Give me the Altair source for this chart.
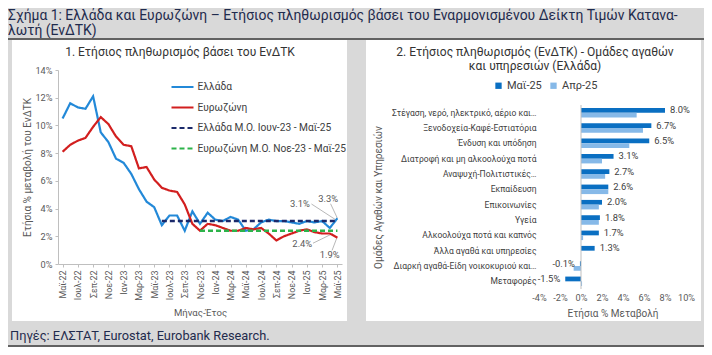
import altair as alt
import pandas as pd

FONT = "Roboto, sans-serif"
BG = "#d9d9d9"
TXT = "#1f2b4d"
AX = "#595959"

title_lines = [
    "Σχήμα 1: Ελλάδα και Ευρωζώνη – Ετήσιος πληθωρισμός βάσει του Εναρμονισμένου Δείκτη Τιμών Κατανα-",
    "λωτή (ΕνΔΤΚ)",
]
sub_left = "1. Ετήσιος πληθωρισμός βάσει του ΕνΔΤΚ"
sub_right = ["2. Ετήσιος πληθωρισμός (ΕνΔΤΚ) - Ομάδες αγαθών", "και υπηρεσιών (Ελλάδα)"]
footer_text = "Πηγές: ΕΛΣΤΑΤ, Eurostat, Eurobank Research."

# ---------------- left panel data ----------------
months = ["Μαϊ-22", "Ιουν-22", "Ιουλ-22", "Αυγ-22", "Σεπ-22", "Οκτ-22", "Νοε-22", "Δεκ-22",
          "Ιαν-23", "Φεβ-23", "Μαρ-23", "Απρ-23", "Μαϊ-23", "Ιουν-23", "Ιουλ-23", "Αυγ-23",
          "Σεπ-23", "Οκτ-23", "Νοε-23", "Δεκ-23", "Ιαν-24", "Φεβ-24", "Μαρ-24", "Απρ-24",
          "Μαϊ-24", "Ιουν-24", "Ιουλ-24", "Αυγ-24", "Σεπ-24", "Οκτ-24", "Νοε-24", "Δεκ-24",
          "Ιαν-25", "Φεβ-25", "Μαρ-25", "Απρ-25", "Μαϊ-25"]
greece = [10.5, 11.6, 11.3, 11.2, 12.1, 9.5, 8.8, 7.6, 7.3, 6.5, 5.4, 4.5, 4.1, 2.8, 3.5, 3.5,
          2.4, 3.8, 2.9, 3.7, 3.2, 3.1, 3.4, 3.2, 2.4, 2.5, 3.0, 3.2, 3.1, 3.1, 3.0, 2.9,
          3.1, 3.0, 3.1, 2.6, 3.3]
eurozone = [8.1, 8.6, 8.9, 9.1, 9.9, 10.6, 10.1, 9.2, 8.6, 8.5, 6.9, 7.0, 6.1, 5.5, 5.3, 5.2,
            4.3, 2.9, 2.4, 2.9, 2.8, 2.6, 2.4, 2.4, 2.6, 2.5, 2.6, 2.2, 1.7, 2.0, 2.2, 2.4,
            2.5, 2.3, 2.2, 2.2, 1.9]
series_names = ["Ελλάδα", "Ευρωζώνη", "Ελλάδα Μ.Ο. Ιουν-23 - Μαϊ-25", "Ευρωζώνη Μ.Ο. Νοε-23 - Μαϊ-25"]
series_colors = ["#2389d8", "#d21f1f", "#1b2a6b", "#2db34a"]
series_dashes = [[1, 0], [1, 0], [5, 3], [5, 3]]
avg_values = [3.1, 2.4]
avg_start = ["Ιουν-23", "Νοε-23"]
avg_end = ["Μαϊ-25", "Μαϊ-25"]

ann_text = ["3.1%", "3.3%", "2.4%", "1.9%"]
ann_x = [31.1, 34.8, 31.4, 35.0]
ann_y = [4.33, 4.69, 1.44, 0.65]
lead_x = [32.6, 35.1, 32.8, 35.3]
lead_y = [4.33, 4.35, 1.5, 0.98]
lead_x2 = [35.7, 36.0, 35.4, 35.9]
lead_y2 = [3.22, 3.3, 2.2, 1.85]

# ---------------- right panel data ----------------
categories = ["Στέγαση, νερό, ηλεκτρικό, αέριο και…", "Ξενοδοχεία-Καφέ-Εστιατόρια",
              "Ένδυση και υπόδηση", "Διατροφή και μη αλκοολούχα ποτά", "Αναψυχή-Πολιτιστικές…",
              "Εκπαίδευση", "Επικοινωνίες", "Υγεία", "Αλκοολούχα ποτά και καπνός",
              "Άλλα αγαθά και υπηρεσίες", "Διαρκή αγαθά-Είδη νοικοκυριού και…", "Μεταφορές"]
periods = ["Μαϊ-25", "Απρ-25"]
may25 = [8.0, 6.7, 6.5, 3.1, 2.7, 2.6, 2.0, 1.8, 1.7, 1.3, -0.1, -1.5]
apr25 = [5.3, 5.9, 4.6, 2.0, 2.3, 2.6, 1.7, 1.7, 0.2, 0.0, -0.7, 0.1]
period_colors = ["#0a6fc2", "#86b9e8"]

# ---------------- frames ----------------
line_df = pd.DataFrame({
    "idx": list(range(len(months))) * 2,
    "value": greece + eurozone,
    "series": [series_names[0]] * len(months) + [series_names[1]] * len(months),
})
avg_rows = []
for name, v, s, e in zip(series_names[2:], avg_values, avg_start, avg_end):
    avg_rows.append({"idx": months.index(s), "value": v, "series": name})
    avg_rows.append({"idx": months.index(e), "value": v, "series": name})
avg_df = pd.DataFrame(avg_rows)
ann_df = pd.DataFrame({"idx": ann_x, "value": ann_y, "t": ann_text})
lead_df = pd.DataFrame({"idx": lead_x, "value": lead_y, "idx2": lead_x2, "value2": lead_y2})

bar_df = pd.DataFrame({
    "category": categories * 2,
    "period": [periods[0]] * len(categories) + [periods[1]] * len(categories),
    "pct": may25 + apr25,
})
lab_df = pd.DataFrame({"category": categories, "period": periods[0], "pct": may25,
                       "label": [f"{v:.1f}%" for v in may25]})

one = alt.Data(values=[{}])

# overall canvas (single layered view, pixel layout)
TW, TH = 696, 339
L_X0, L_X1, L_Y0, L_Y1 = 50, 334, 62, 256
R_X0, R_X1, R_Y0, R_Y1 = 531, 678, 97, 281

# ---------------- decoration layer ----------------
def rect(x0, x1, y0, y1, fill):
    return alt.Chart(one).mark_rect(fill=fill).encode(
        x=alt.value(x0), x2=alt.value(x1), y=alt.value(y0), y2=alt.value(y1))

def txt(s, x, y, size, color, align="left"):
    return alt.Chart(one).mark_text(text=s, align=align, baseline="middle", fontSize=size,
                                    color=color, font=FONT).encode(x=alt.value(x), y=alt.value(y))

def hline(y, x0, x1):
    return alt.Chart(one).mark_rule(color="#3a3a3a", strokeWidth=1.5).encode(
        x=alt.value(x0), x2=alt.value(x1), y=alt.value(y))

deco = alt.layer(
    rect(4, 339, 32, 313, "white"),
    rect(358, 693, 32, 313, "white"),
    txt(title_lines[0], 0, 7.5, 13.9, TXT),
    txt(title_lines[1], 0, 22.5, 13.9, TXT),
    hline(31, 0, TW),
    txt(sub_left, 172, 44, 12, "#333333", "center"),
    txt(sub_right[0], 527, 44, 12, "#333333", "center"),
    txt(sub_right[1], 527, 58, 12, "#333333", "center"),
    txt(footer_text, 2, 328, 12.8, TXT),
    hline(338, 0, TW),
)

# ---------------- left panel ----------------
label_expr = "[" + ",".join("'" + m + "'" for m in months) + "][datum.value]"
x1 = alt.X("idx:Q", scale=alt.Scale(domain=[-0.6, 36.6], nice=False, zero=False, range=[L_X0, L_X1]),
           axis=alt.Axis(values=list(range(0, 37, 2)), labelExpr=label_expr, labelAngle=270,
                         title="Μήνας-Έτος", titlePadding=7, labelFontSize=8.9, tickSize=3,
                         labelPadding=3, orient="bottom", offset=L_Y1 - TH, zindex=1,
                         labelOverlap=False, labelFlush=False, domainColor="#bfbfbf",
                         tickColor="#bfbfbf", labelColor=AX, titleColor=AX,
                         titleFontWeight="normal", titleFontSize=9.6, grid=False))
y1 = alt.Y("value:Q", scale=alt.Scale(domain=[0, 14], nice=False, range=[L_Y1, L_Y0]),
           axis=alt.Axis(values=list(range(0, 15, 2)), labelExpr="datum.value + '%'",
                         title="Ετήσια % μεταβολή του ΕνΔΤΚ", titlePadding=2,
                         labelFontSize=9.2, tickSize=3, labelPadding=3, orient="left",
                         offset=-L_X0, zindex=1, labelFlush=False, domainColor="#bfbfbf",
                         tickColor="#bfbfbf", labelColor=AX, titleColor=AX,
                         titleFontWeight="normal", titleFontSize=10, grid=False))
leg1 = alt.Legend(orient="none", legendX=167.5, legendY=72, title=None, symbolType="M-2,0L2,0",
                  symbolSize=121, symbolStrokeWidth=2.2, labelFontSize=10.2, labelColor="#404040",
                  labelOffset=8, rowPadding=7.5, labelLimit=400, padding=0, labelFont=FONT)
col1 = alt.Color("series:N", scale=alt.Scale(domain=series_names, range=series_colors), legend=leg1)
dash1 = alt.StrokeDash("series:N", scale=alt.Scale(domain=series_names, range=series_dashes), legend=leg1)

lines = alt.Chart(line_df).mark_line(strokeWidth=2.2).encode(x=x1, y=y1, color=col1, strokeDash=dash1)
avgs = alt.Chart(avg_df).mark_line(strokeWidth=2.4).encode(x=x1, y=y1, color=col1, strokeDash=dash1)
leads = alt.Chart(lead_df).mark_rule(color="#a6a6a6", strokeWidth=0.8).encode(
    x=x1, y=y1, x2="idx2:Q", y2="value2:Q")
anns = alt.Chart(ann_df).mark_text(fontSize=9.4, color=AX, font=FONT).encode(x=x1, y=y1, text="t:N")

left = alt.layer(leads, lines, avgs, anns)

# ---------------- right panel ----------------
y2 = alt.Y("category:N", sort=categories,
           scale=alt.Scale(domain=categories, paddingInner=0.38, paddingOuter=0.19, range=[R_Y0, R_Y1]),
           axis=alt.Axis(title="Ομάδες Αγαθών και Υπηρεσιών", domain=False, ticks=False,
                         labelPadding=3, labelLimit=260, labelFontSize=8.5, labelColor="#404040",
                         titleX=-161, titleY=(R_Y0 + R_Y1) / 2, titleAngle=270,
                         titleAlign="center", titleBaseline="middle", orient="left",
                         offset=-R_X0, zindex=1, titleColor=AX, titleFontWeight="normal",
                         titleFontSize=10, grid=False))
yo2 = alt.YOffset("period:N", sort=periods, scale=alt.Scale(domain=periods))
x2 = alt.X("pct:Q", scale=alt.Scale(domain=[-4, 10], nice=False, range=[R_X0, R_X1]),
           axis=alt.Axis(values=[-4, -2, 0, 2, 4, 6, 8, 10], labelExpr="datum.value + '%'",
                         domain=False, ticks=False, title="Ετήσια % Μεταβολή", labelPadding=4,
                         titlePadding=6, labelFontSize=9.2, orient="bottom", offset=R_Y1 - TH,
                         labelOverlap=False, labelFlush=False, zindex=1, labelColor=AX,
                         titleColor=AX, titleFontWeight="normal", titleFontSize=10, grid=False))
col2 = alt.Color("period:N", scale=alt.Scale(domain=periods, range=period_colors),
                 legend=alt.Legend(orient="none", direction="horizontal", legendX=485, legendY=72,
                                   title=None, symbolType="square", symbolSize=40,
                                   labelFontSize=11, labelColor="#404040", columnPadding=6,
                                   labelOffset=3, padding=0, labelFont=FONT))

zero = alt.Chart(one).mark_rule(color="#bfbfbf", strokeWidth=1).encode(
    x=alt.datum(0), y=alt.value(R_Y0), y2=alt.value(R_Y1))
bars = alt.Chart(bar_df).mark_bar().encode(y=y2, yOffset=yo2, x=x2, color=col2)
pos_lab = alt.Chart(lab_df).transform_filter("datum.pct >= 0").mark_text(
    align="left", dx=5, fontSize=9.4, color="#404040", font=FONT).encode(
    y=y2, yOffset=yo2, x=x2, text="label:N")
neg_lab = alt.Chart(lab_df).transform_filter("datum.pct < 0").mark_text(
    align="right", dx=-5, fontSize=9.4, color="#404040", font=FONT).encode(
    y=y2, yOffset=yo2, x=x2, text="label:N")

right = alt.layer(bars, zero, pos_lab, neg_lab)

chart = alt.layer(deco, left, right).resolve_scale(
    x="independent", y="independent", color="independent", strokeDash="independent"
).resolve_axis(x="independent", y="independent").properties(
    width=TW, height=TH, padding=0, background=BG,
    autosize=alt.AutoSizeParams(type="none"),
).configure(font=FONT).configure_view(stroke="transparent")

chart.save("out.html", embed_options={"renderer": "svg", "actions": False})
